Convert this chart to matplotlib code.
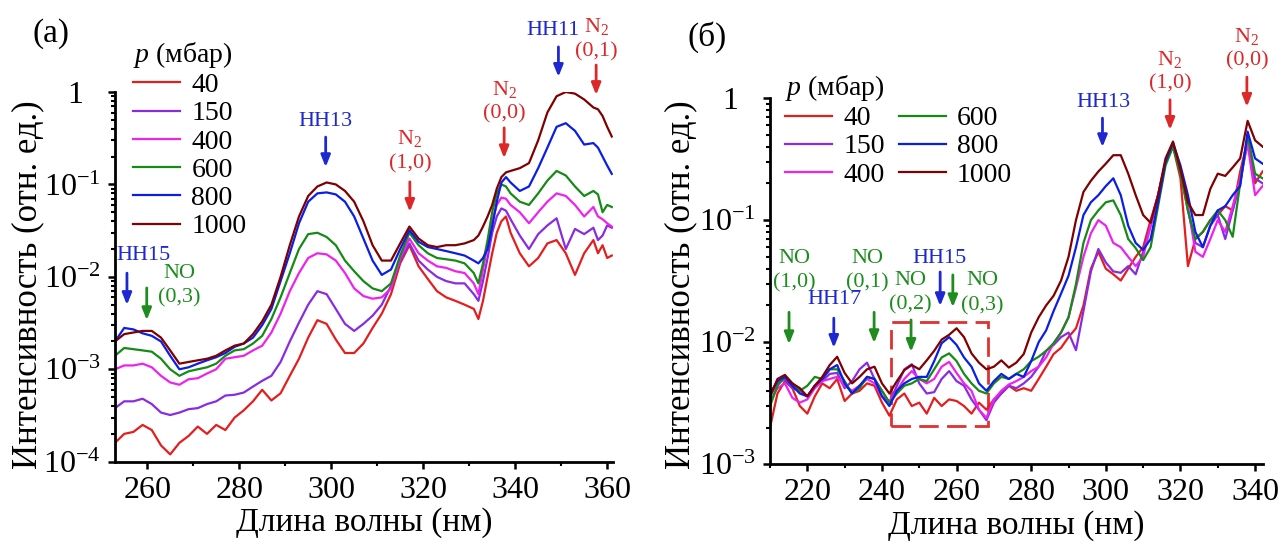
import numpy as np
import matplotlib
matplotlib.use('Agg')
import matplotlib.pyplot as plt
from matplotlib.ticker import FixedLocator, FuncFormatter, LogLocator, NullFormatter, MultipleLocator
from matplotlib.transforms import blended_transform_factory, ScaledTranslation
from matplotlib.patches import Rectangle

plt.rcParams['font.family'] = ['Liberation Serif', 'DejaVu Serif']
plt.rcParams['mathtext.fontset'] = 'custom'
plt.rcParams['mathtext.rm'] = 'Liberation Serif'
plt.rcParams['mathtext.it'] = 'Liberation Serif:italic'
plt.rcParams['mathtext.bf'] = 'Liberation Serif:bold'

pressures = ['40', '150', '400', '600', '800', '1000']
line_colors = ['#E41E1E', '#8A2BE2', '#EE22EE', '#168A16', '#0A1EE6', '#800000']

# ---- panel (a): 253-361 nm ----
wl_a = [253, 255, 257, 259, 261, 263, 265, 267, 269, 271, 273, 275, 277, 279, 281,
        283, 285, 287, 289, 291, 293, 295, 297, 299, 301, 303, 305, 307, 309, 311,
        313, 315, 317, 319, 321, 323, 325, 327, 329, 331, 332, 333, 334, 335, 336,
        337, 338, 339, 341, 343, 345, 347, 349, 351, 353, 355, 357, 358, 359, 360, 361]

a_40 = [1.6e-4, 2.0e-4, 2.1e-4, 2.5e-4, 2.2e-4, 1.5e-4, 1.2e-4, 1.6e-4, 1.9e-4, 2.4e-4,
        2.0e-4, 2.5e-4, 2.2e-4, 3.0e-4, 3.6e-4, 4.5e-4, 6.0e-4, 4.6e-4, 5.5e-4, 8.5e-4,
        1.3e-3, 2.2e-3, 3.4e-3, 3.1e-3, 2.1e-3, 1.5e-3, 1.5e-3, 1.9e-3, 2.8e-3, 4.0e-3,
        6.5e-3, 1.4e-2, 2.2e-2, 1.3e-2, 9.5e-3, 7.0e-3, 6.0e-3, 5.5e-3, 5.0e-3, 4.5e-3,
        3.5e-3, 5.5e-3, 1.0e-2, 1.8e-2, 3.0e-2, 4.0e-2, 4.5e-2, 3.0e-2, 1.8e-2, 1.3e-2,
        1.6e-2, 2.3e-2, 2.5e-2, 1.8e-2, 1.05e-2, 1.8e-2, 2.5e-2, 1.8e-2, 2.2e-2, 1.6e-2, 1.7e-2]
a_150 = [3.8e-4, 4.5e-4, 4.5e-4, 4.8e-4, 4.2e-4, 3.4e-4, 3.2e-4, 3.4e-4, 3.7e-4, 3.8e-4,
         4.2e-4, 4.5e-4, 5.2e-4, 5.3e-4, 5.6e-4, 6.5e-4, 7.5e-4, 8.5e-4, 1.2e-3, 2.0e-3,
         3.2e-3, 5.0e-3, 7.0e-3, 6.5e-3, 4.5e-3, 3.1e-3, 2.6e-3, 3.1e-3, 3.8e-3, 5.0e-3,
         8.0e-3, 1.5e-2, 2.3e-2, 1.5e-2, 1.2e-2, 1.0e-2, 9.0e-3, 8.5e-3, 8.5e-3, 6.5e-3,
         5.5e-3, 9.0e-3, 1.6e-2, 3.0e-2, 4.5e-2, 5.5e-2, 5.2e-2, 4.2e-2, 2.8e-2, 2.0e-2,
         2.9e-2, 3.6e-2, 4.3e-2, 2.0e-2, 3.3e-2, 2.9e-2, 3.4e-2, 2.5e-2, 2.8e-2, 3.6e-2, 3.4e-2]
a_400 = [1.0e-3, 1.1e-3, 1.1e-3, 1.15e-3, 1.05e-3, 8.5e-4, 7.2e-4, 6.8e-4, 7.8e-4, 8.0e-4,
         9.0e-4, 1.0e-3, 1.3e-3, 1.35e-3, 1.4e-3, 1.6e-3, 1.8e-3, 2.5e-3, 4.0e-3, 7.0e-3,
         1.1e-2, 1.6e-2, 1.8e-2, 1.75e-2, 1.5e-2, 1.1e-2, 7.5e-3, 6.2e-3, 5.8e-3, 6.0e-3,
         7.5e-3, 1.6e-2, 2.6e-2, 1.8e-2, 1.5e-2, 1.3e-2, 1.25e-2, 1.15e-2, 1.1e-2, 8.5e-3,
         6.5e-3, 1.2e-2, 2.2e-2, 4.0e-2, 6.0e-2, 7.2e-2, 7.0e-2, 6.0e-2, 5.0e-2, 3.8e-2,
         5.0e-2, 6.5e-2, 8.0e-2, 7.5e-2, 6.0e-2, 4.5e-2, 5.7e-2, 4.5e-2, 4.2e-2, 3.8e-2, 3.5e-2]
a_600 = [1.4e-3, 1.7e-3, 1.65e-3, 1.6e-3, 1.55e-3, 1.3e-3, 1.0e-3, 8.5e-4, 9.5e-4, 1.0e-3,
         1.05e-3, 1.15e-3, 1.4e-3, 1.6e-3, 1.65e-3, 1.9e-3, 2.3e-3, 3.5e-3, 6.0e-3, 1.1e-2,
         2.0e-2, 2.9e-2, 3.0e-2, 2.7e-2, 2.2e-2, 1.5e-2, 1.15e-2, 9.0e-3, 7.5e-3, 7.0e-3,
         8.5e-3, 1.7e-2, 3.0e-2, 2.2e-2, 1.8e-2, 1.6e-2, 1.55e-2, 1.5e-2, 1.4e-2, 1.1e-2,
         8.5e-3, 1.4e-2, 2.5e-2, 5.0e-2, 8.0e-2, 1.0e-1, 9.5e-2, 8.0e-2, 6.5e-2, 6.0e-2,
         8.0e-2, 1.1e-1, 1.4e-1, 1.25e-1, 9.5e-2, 7.5e-2, 8.5e-2, 7.8e-2, 5.0e-2, 6.0e-2, 5.7e-2]
a_800 = [2.0e-3, 2.8e-3, 2.7e-3, 2.45e-3, 2.3e-3, 2.0e-3, 1.4e-3, 1.0e-3, 1.05e-3, 1.15e-3,
         1.25e-3, 1.35e-3, 1.5e-3, 1.75e-3, 1.9e-3, 2.2e-3, 3.0e-3, 4.5e-3, 9.0e-3, 1.8e-2,
         3.8e-2, 6.5e-2, 8.0e-2, 8.2e-2, 7.8e-2, 6.5e-2, 4.5e-2, 2.6e-2, 1.5e-2, 1.05e-2,
         1.2e-2, 2.0e-2, 3.2e-2, 2.4e-2, 2.1e-2, 2.0e-2, 1.9e-2, 1.8e-2, 1.7e-2, 1.5e-2,
         1.4e-2, 1.6e-2, 2.0e-2, 3.5e-2, 6.5e-2, 1.05e-1, 1.2e-1, 1.05e-1, 8.5e-2, 9.5e-2,
         1.5e-1, 2.5e-1, 4.2e-1, 4.6e-1, 3.8e-1, 2.7e-1, 2.8e-1, 2.5e-1, 2.0e-1, 1.6e-1, 1.3e-1]
a_1000 = [2.0e-3, 2.4e-3, 2.5e-3, 2.6e-3, 2.6e-3, 2.2e-3, 1.6e-3, 1.15e-3, 1.2e-3, 1.25e-3,
          1.3e-3, 1.4e-3, 1.6e-3, 1.8e-3, 1.9e-3, 2.4e-3, 3.3e-3, 5.0e-3, 1.0e-2, 2.2e-2,
          4.5e-2, 7.5e-2, 9.5e-2, 1.05e-1, 1.0e-1, 8.5e-2, 6.5e-2, 4.0e-2, 2.2e-2, 1.5e-2,
          1.5e-2, 2.3e-2, 3.5e-2, 2.6e-2, 2.2e-2, 2.1e-2, 2.2e-2, 2.2e-2, 2.3e-2, 2.5e-2,
          2.8e-2, 3.5e-2, 4.5e-2, 6.0e-2, 9.0e-2, 1.2e-1, 1.35e-1, 1.4e-1, 1.5e-1, 1.7e-1,
          3.0e-1, 6.0e-1, 9.0e-1, 1.0, 9.6e-1, 8.3e-1, 6.8e-1, 6.5e-1, 5.5e-1, 4.2e-1, 3.3e-1]

# ---- panel (б): 210-342 nm, 2 nm step ----
wl_b = list(range(210, 343, 2))

b_40 = [2.0e-3, 3.8e-3, 4.8e-3, 4.2e-3, 3.0e-3, 2.6e-3, 3.6e-3, 4.6e-3, 4.2e-3, 5.0e-3,
        3.3e-3, 3.8e-3, 4.0e-3, 4.6e-3, 4.4e-3, 3.2e-3, 2.5e-3, 3.4e-3, 3.8e-3, 3.0e-3,
        3.2e-3, 2.6e-3, 3.5e-3, 3.0e-3, 3.4e-3, 3.3e-3, 3.0e-3, 2.6e-3, 3.2e-3, 2.8e-3,
        3.4e-3, 3.8e-3, 4.4e-3, 4.0e-3, 4.2e-3, 4.0e-3, 5.0e-3, 6.3e-3, 8.0e-3, 9.0e-3,
        1.1e-2, 1.3e-2, 2.0e-2, 4.0e-2, 5.5e-2, 4.0e-2, 3.6e-2, 3.2e-2, 4.0e-2, 5.0e-2,
        6.0e-2, 1.0e-1, 1.6e-1, 3.0e-1, 4.0e-1, 2.2e-1, 4.2e-2, 7.0e-2, 8.0e-2, 1.0e-1,
        1.1e-1, 1.3e-1, 1.2e-1, 2.5e-1, 4.5e-1, 2.0e-1, 2.5e-1]
b_150 = [3.6e-3, 4.6e-3, 5.0e-3, 4.2e-3, 4.0e-3, 3.6e-3, 4.4e-3, 4.8e-3, 5.5e-3, 5.6e-3,
         4.2e-3, 4.8e-3, 6.0e-3, 6.8e-3, 5.0e-3, 4.0e-3, 3.2e-3, 4.4e-3, 6.0e-3, 6.6e-3,
         4.6e-3, 3.8e-3, 3.9e-3, 5.0e-3, 5.8e-3, 4.8e-3, 4.4e-3, 3.4e-3, 2.8e-3, 2.3e-3,
         3.2e-3, 3.8e-3, 4.4e-3, 4.2e-3, 4.6e-3, 5.2e-3, 6.3e-3, 8.5e-3, 9.5e-3, 1.1e-2,
         1.2e-2, 8.6e-3, 1.8e-2, 3.8e-2, 5.8e-2, 4.5e-2, 3.8e-2, 3.7e-2, 4.2e-2, 3.6e-2,
         5.5e-2, 9.0e-2, 1.6e-1, 3.0e-1, 4.0e-1, 2.5e-1, 1.2e-1, 6.5e-2, 6.0e-2, 9.0e-2,
         1.1e-1, 7.0e-2, 1.2e-1, 2.0e-1, 4.5e-1, 2.2e-1, 2.0e-1]
b_400 = [3.3e-3, 4.2e-3, 4.6e-3, 3.5e-3, 3.2e-3, 3.4e-3, 4.2e-3, 4.8e-3, 5.0e-3, 5.2e-3,
         4.4e-3, 4.0e-3, 4.4e-3, 5.0e-3, 4.6e-3, 3.6e-3, 3.3e-3, 4.0e-3, 5.0e-3, 5.8e-3,
         5.0e-3, 4.6e-3, 5.0e-3, 6.3e-3, 6.9e-3, 5.6e-3, 4.6e-3, 4.0e-3, 2.8e-3, 2.4e-3,
         3.4e-3, 4.0e-3, 4.5e-3, 4.8e-3, 5.2e-3, 5.8e-3, 6.3e-3, 7.5e-3, 9.8e-3, 1.2e-2,
         1.6e-2, 2.8e-2, 5.0e-2, 7.8e-2, 1.0e-1, 9.0e-2, 6.5e-2, 6.0e-2, 5.0e-2, 4.2e-2,
         5.0e-2, 9.0e-2, 1.6e-1, 3.0e-1, 4.2e-1, 2.5e-1, 1.3e-1, 5.5e-2, 5.0e-2, 7.0e-2,
         1.0e-1, 8.0e-2, 1.3e-1, 2.2e-1, 4.2e-1, 1.6e-1, 1.9e-1]
b_600 = [3.0e-3, 4.4e-3, 5.2e-3, 4.6e-3, 4.0e-3, 4.4e-3, 5.2e-3, 5.0e-3, 6.0e-3, 6.0e-3,
         4.8e-3, 3.8e-3, 4.2e-3, 5.2e-3, 5.0e-3, 4.0e-3, 3.2e-3, 3.8e-3, 4.4e-3, 4.6e-3,
         5.0e-3, 4.8e-3, 6.0e-3, 7.5e-3, 8.1e-3, 7.0e-3, 5.5e-3, 4.6e-3, 4.0e-3, 3.8e-3,
         4.6e-3, 5.2e-3, 5.0e-3, 5.5e-3, 6.0e-3, 7.0e-3, 7.6e-3, 8.5e-3, 9.8e-3, 1.2e-2,
         1.6e-2, 3.0e-2, 6.5e-2, 1.0e-1, 1.2e-1, 1.4e-1, 1.45e-1, 1.1e-1, 7.0e-2, 5.9e-2,
         4.7e-2, 6.0e-2, 1.3e-1, 2.8e-1, 4.0e-1, 2.4e-1, 1.2e-1, 7.0e-2, 8.0e-2, 1.0e-1,
         1.2e-1, 1.0e-1, 7.3e-2, 2.0e-1, 5.0e-1, 2.4e-1, 2.2e-1]
b_800 = [3.8e-3, 4.8e-3, 5.2e-3, 4.4e-3, 3.8e-3, 3.6e-3, 4.4e-3, 5.0e-3, 6.0e-3, 6.5e-3,
         4.6e-3, 3.8e-3, 4.4e-3, 5.2e-3, 5.0e-3, 3.6e-3, 3.0e-3, 4.0e-3, 4.6e-3, 5.0e-3,
         5.2e-3, 5.2e-3, 7.0e-3, 9.8e-3, 1.1e-2, 9.5e-3, 7.5e-3, 6.3e-3, 4.6e-3, 4.0e-3,
         4.8e-3, 5.5e-3, 5.0e-3, 5.5e-3, 5.2e-3, 7.0e-3, 1.0e-2, 1.25e-2, 1.8e-2, 2.5e-2,
         3.5e-2, 6.0e-2, 1.1e-1, 1.4e-1, 1.6e-1, 1.9e-1, 2.2e-1, 1.6e-1, 9.0e-2, 6.5e-2,
         5.7e-2, 7.0e-2, 1.4e-1, 3.0e-1, 4.3e-1, 2.8e-1, 1.6e-1, 8.0e-2, 6.0e-2, 9.0e-2,
         1.2e-1, 1.3e-1, 1.6e-1, 1.9e-1, 5.3e-1, 3.2e-1, 2.9e-1]
b_1000 = [3.6e-3, 5.0e-3, 5.4e-3, 4.6e-3, 4.2e-3, 3.6e-3, 4.4e-3, 5.2e-3, 6.5e-3, 7.6e-3,
          5.6e-3, 4.6e-3, 5.2e-3, 6.0e-3, 6.3e-3, 4.6e-3, 3.8e-3, 4.8e-3, 5.9e-3, 6.5e-3,
          6.0e-3, 7.1e-3, 8.5e-3, 1.05e-2, 1.15e-2, 1.3e-2, 1.1e-2, 8.1e-3, 6.8e-3, 6.0e-3,
          6.3e-3, 7.1e-3, 6.2e-3, 6.8e-3, 8.0e-3, 1.2e-2, 1.6e-2, 2.0e-2, 2.4e-2, 3.2e-2,
          5.0e-2, 1.0e-1, 1.7e-1, 2.1e-1, 2.5e-1, 2.9e-1, 3.4e-1, 3.4e-1, 2.4e-1, 1.6e-1,
          1.1e-1, 9.5e-2, 1.6e-1, 3.2e-1, 4.4e-1, 2.6e-1, 1.4e-1, 1.1e-1, 1.1e-1, 1.8e-1,
          2.4e-1, 2.3e-1, 2.7e-1, 3.2e-1, 6.5e-1, 4.5e-1, 4.0e-1]

series_a = [a_40, a_150, a_400, a_600, a_800, a_1000]
series_b = [b_40, b_150, b_400, b_600, b_800, b_1000]

# dashed box around the 242-268 nm region in (б)
box_x = (242.3, 268.3)
box_y = (2.05e-3, 1.45e-2)

BLUE = '#1E28D2'
RED = '#DC2828'
GREEN = '#1E8C1E'

# arrow marks: label, second line, text x, text y, arrow x, arrow top, arrow tip
# (y values in axes fraction)
marks_a = [
    ('HH15', None, 259.3, 0.559, 255.6, 0.510, 0.424, BLUE),
    ('NO', '(0,3)', 266.9, 0.510, 259.9, 0.470, 0.383, GREEN),
    ('HH13', None, 298.8, 0.921, 298.8, 0.878, 0.797, BLUE),
    ('N$_2$', '(1,0)', 317.1, 0.873, 317.1, 0.757, 0.676, RED),
    ('N$_2$', '(0,0)', 337.6, 1.008, 337.6, 0.903, 0.821, RED),
    ('HH11', None, 348.2, 1.165, 349.4, 1.122, 1.041, BLUE),
    ('N$_2$', '(0,1)', 357.6, 1.176, 357.6, 1.073, 0.992, RED),
]
marks_b = [
    ('NO', '(1,0)', 216.5, 0.563, 215.1, 0.415, 0.328, GREEN),
    ('HH17', None, 227.4, 0.449, 227.1, 0.399, 0.318, BLUE),
    ('NO', '(0,1)', 236.0, 0.563, 237.9, 0.415, 0.331, GREEN),
    ('NO', '(0,2)', 247.6, 0.503, 247.8, 0.394, 0.307, GREEN),
    ('HH15', None, 255.3, 0.563, 255.6, 0.525, 0.432, BLUE),
    ('NO', '(0,3)', 267.0, 0.501, 259.0, 0.517, 0.429, GREEN),
    ('HH13', None, 299.3, 0.989, 299.1, 0.945, 0.866, BLUE),
    ('N$_2$', '(1,0)', 317.2, 1.106, 317.2, 0.995, 0.913, RED),
    ('N$_2$', '(0,0)', 337.8, 1.169, 337.8, 1.057, 0.976, RED),
]


def decade_label(v, pos):
    e = int(round(np.log10(v)))
    return '1' if e == 0 else r'$\mathregular{10^{%d}}$' % e


def style_axis(ax, xlim, ylim, xmajor, decades, ylab_x, ylab_y):
    ax.set_yscale('log')
    ax.set_xlim(*xlim)
    ax.set_ylim(*ylim)
    for side in ('top', 'right'):
        ax.spines[side].set_visible(False)
    for side in ('left', 'bottom'):
        ax.spines[side].set_linewidth(2.0)
    ax.xaxis.set_major_locator(FixedLocator(xmajor))
    ax.xaxis.set_minor_locator(MultipleLocator(10))
    ax.yaxis.set_major_locator(FixedLocator(decades))
    ax.yaxis.set_major_formatter(FuncFormatter(decade_label))
    ax.yaxis.set_minor_locator(LogLocator(base=10, subs=np.arange(2, 10), numticks=20))
    ax.yaxis.set_minor_formatter(NullFormatter())
    ax.tick_params(which='major', direction='out', length=5, width=1.8, labelsize=23, pad=5)
    ax.tick_params(which='minor', direction='out', length=3, width=1.5)
    ax.set_xlabel('Длина волны (нм)', fontsize=24, labelpad=2)
    ax.set_ylabel('Интенсивность (отн. ед.)', fontsize=25)
    ax.yaxis.set_label_coords(ylab_x, ylab_y)


def put_marks(ax, marks):
    tr = blended_transform_factory(ax.transData, ax.transAxes)
    for top, bottom, tx, ty, ax_x, y0, y1, col in marks:
        ax.text(tx, ty, top, transform=tr, ha='center', va='center',
                color=col, fontsize=16, clip_on=False)
        if bottom is not None:
            ax.text(tx, ty - 0.068, bottom, transform=tr, ha='center', va='center',
                    color=col, fontsize=16, clip_on=False)
        ax.annotate('', xy=(ax_x, y1), xytext=(ax_x, y0), xycoords=tr, textcoords=tr,
                    arrowprops=dict(arrowstyle='-|>,head_length=0.7,head_width=0.28',
                                    color=col, lw=2, shrinkA=0, shrinkB=0),
                    annotation_clip=False)


fig = plt.figure(figsize=(12.86, 5.48), dpi=100)
W, H = 1286, 548

ax_a = fig.add_axes([115 / W, 1 - 461.7 / H, 497.7 / W, 369.7 / H])
ax_b = fig.add_axes([770 / W, 1 - 464.3 / H, 493.3 / W, 366.3 / H])

for vals, p, c in zip(series_a, pressures, line_colors):
    ax_a.plot(wl_a, vals, color=c, lw=1.6, label=p)
for vals, p, c in zip(series_b, pressures, line_colors):
    ax_b.plot(wl_b, vals, color=c, lw=1.6, label=p)

style_axis(ax_a, (253, 361.2), (1e-4, 1), range(260, 361, 20),
           [1e-4, 1e-3, 1e-2, 1e-1, 1], -0.142, 0.48)
style_axis(ax_b, (210, 342.2), (1e-3, 1), range(220, 341, 20),
           [1e-3, 1e-2, 1e-1, 1], -0.148, 0.49)

ax_b.add_patch(Rectangle((box_x[0], box_y[0]), box_x[1] - box_x[0], box_y[1] - box_y[0],
                         fill=False, edgecolor='#E03030', lw=2, linestyle=(0, (7, 3))))

put_marks(ax_a, marks_a)
put_marks(ax_b, marks_b)

leg_kw = dict(loc='upper left', bbox_transform=fig.transFigure, frameon=False,
              fontsize=20, title_fontsize=20, handlelength=1.7, handletextpad=0.4,
              labelspacing=0.1, borderpad=0, borderaxespad=0, alignment='left')
ax_a.legend(title='$p$ (мбар)', bbox_to_anchor=(133 / W, 1 - 40 / H), **leg_kw)
ax_b.legend(title='$p$ (мбар)', bbox_to_anchor=(785 / W, 1 - 73 / H), ncol=2,
            columnspacing=0.5, **leg_kw)

fig.text(51 / W, 1 - 34 / H, '(a)', fontsize=24, ha='center', va='center')
fig.text(707 / W, 1 - 37 / H, '(б)', fontsize=24, ha='center', va='center')

# the plain "1" label sits under the "10" of the other decade labels
fig.canvas.draw()
for ax in (ax_a, ax_b):
    for t in ax.yaxis.get_major_ticks():
        if t.label1.get_text() == '1':
            t.label1.set_transform(t.label1.get_transform()
                                   + ScaledTranslation(-13 / 72, 0, fig.dpi_scale_trans))

fig.savefig('out.png', dpi=100)
